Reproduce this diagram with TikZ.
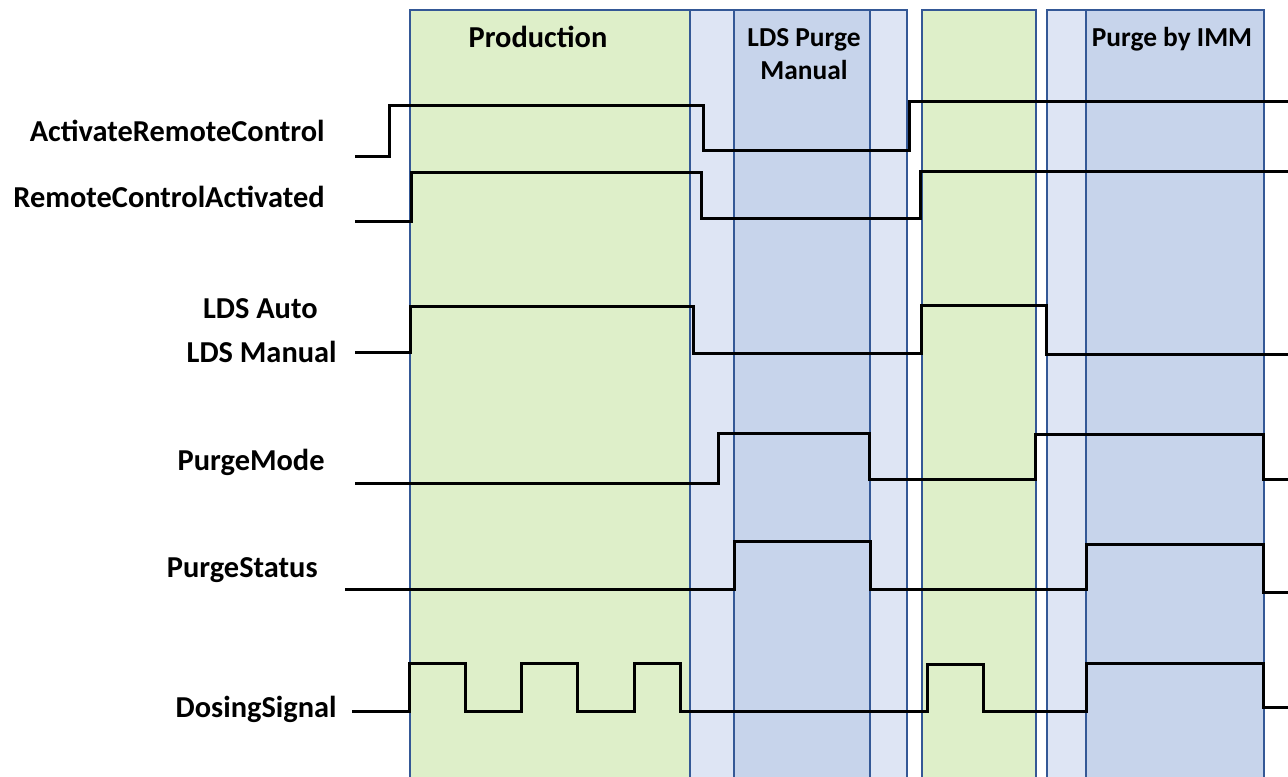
\documentclass[tikz,border=0pt]{standalone}
\usepackage{fontspec}
\setmainfont{Carlito}
\usepackage{xcolor}
\usepackage{tikz}
\usetikzlibrary{positioning}
\definecolor{prodgreen}{RGB}{222,239,201}
\definecolor{lightband}{RGB}{222,229,244}
\definecolor{darkband}{RGB}{199,212,235}
\definecolor{bandline}{RGB}{52,88,150}
\tikzset{band/.style = {draw=bandline, line width=0.6pt},
         wave/.style = {draw=black, line width=1.5pt, line join=miter}}

\begin{document}
\begin{tikzpicture}[x=0.5pt,y=-0.5pt,
    sig label/.style={anchor=base east,inner sep=0pt,font=\fontsize{15.2}{18}\selectfont\bfseries},
    band title/.style={anchor=base,inner sep=0pt,align=center,font=\fontsize{15.2}{16.5}\selectfont\bfseries},
    small title/.style={band title,font=\fontsize{13.7}{16.5}\selectfont\bfseries}]
            \clip (0,0) rectangle (1288,776);
            \fill[white] (0,0) rectangle (1288,776);

            \path[band, fill=prodgreen] (410,790) -- (410,10) -- (690,10) -- (690,790);
            \path[band, fill=lightband] (690,790) -- (690,10) -- (907,10) -- (907,790);
            \path[band, fill=darkband] (734,790) -- (734,10) -- (870,10) -- (870,790);
            \path[band, fill=prodgreen] (922,790) -- (922,10) -- (1036,10) -- (1036,790);
            \path[band, fill=lightband] (1047,790) -- (1047,10) -- (1264,10) -- (1264,790);
            \path[band, fill=darkband] (1086,790) -- (1086,10) -- (1264,10) -- (1264,790);

            \node[band title] (prod) at (538,47) {Production};
            \node[small title] (ldspurge) at (804,79) {LDS Purge\\Manual};
            \node[small title] (imm) at (1172,46) {Purge by IMM};

            \node[sig label] (act) at (325,141) {ActivateRemoteControl};
            \node[sig label] (rca) at (325,207) {RemoteControlActivated};
            \node[sig label] (auto) at (318,318) {LDS Auto};
            \node[sig label] (man) at (337,362) {LDS Manual};
            \node[sig label] (mode) at (325,470) {PurgeMode};
            \node[sig label] (status) at (318,577) {PurgeStatus};
            \node[sig label] (dosing) at (337,717) {DosingSignal};

            \path[wave] (355,156) -| (389,105) -| (703,150) -| (909,101) -- (1290,101);
            \path[wave] (355,221) -| (411,172) -| (701,218) -| (920,171) -- (1290,171);
            \path[wave] (355,352) -| (410,306) -| (693,353) -| (921,305) -| (1046,354) -- (1290,354);
            \path[wave] (355,483) -| (718,433) -| (869,479) -| (1035,434) -| (1263,479) -- (1290,479);
            \path[wave] (345,589) -| (734,541) -| (870,589) -| (1086,544) -| (1263,592) -- (1290,592);
            \path[wave] (352,711) -| (409,663) -| (465,711) -| (521,663) -| (577,711) -| (634,663) -| (680,711)
                -| (927,664) -| (983,711) -| (1086,663) -| (1263,707) -- (1290,707);
        \end{tikzpicture}
\end{document}
